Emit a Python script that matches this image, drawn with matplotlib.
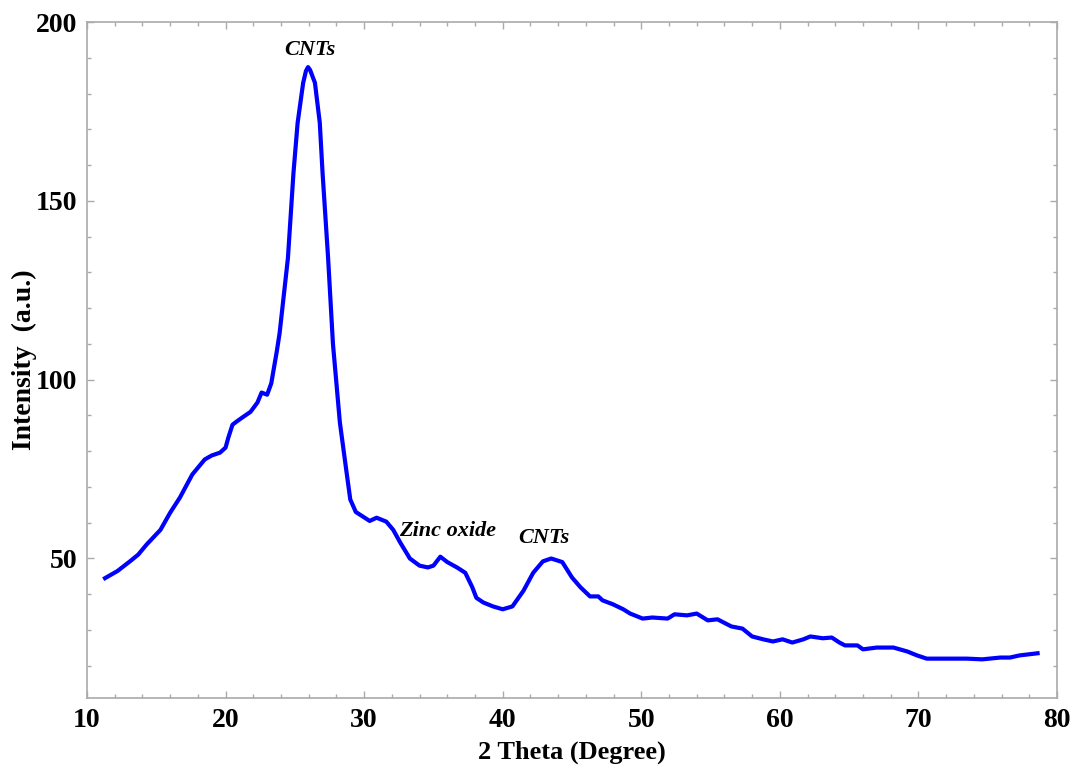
import matplotlib.pyplot as plt
from matplotlib.ticker import MultipleLocator

# XRD pattern
two_theta = [11.3, 12.2, 13.1, 13.7, 14.3, 15.3, 16.0, 16.7, 17.6, 18.5, 19.0, 19.6,
             20.0, 20.2, 20.5, 20.8, 21.2, 21.8, 22.3, 22.6, 23.0, 23.3, 23.7, 23.9,
             24.5, 24.9, 25.2, 25.6, 25.8, 25.95, 26.1, 26.45, 26.8, 27.0, 27.4, 27.75,
             28.0, 28.25, 28.7, 29.0, 29.4, 29.8, 30.4, 30.9, 31.6, 32.1, 32.6, 33.3,
             34.0, 34.6, 35.0, 35.5, 36.0, 36.7, 37.3, 37.8, 38.1, 38.6, 39.3, 40.0,
             40.7, 41.5, 42.2, 42.9, 43.5, 44.3, 45.0, 45.6, 46.3, 46.9, 47.2, 47.95,
             48.7, 49.2, 50.1, 50.8, 51.9, 52.4, 53.3, 54.0, 54.8, 55.5, 56.5, 57.3,
             58.0, 58.8, 59.5, 60.2, 60.9, 61.7, 62.2, 63.1, 63.75, 64.3, 64.7, 65.6,
             66.0, 67.0, 68.2, 69.2, 69.9, 70.6, 72.0, 73.5, 74.6, 75.9, 76.6, 77.3,
             78.6]
intensity = [44.5, 46.5, 49.2, 51.1, 53.9, 58.0, 62.8, 67.0, 73.5, 77.7, 78.8, 79.6,
             81.0, 83.8, 87.4, 88.3, 89.4, 91.0, 93.6, 96.4, 95.8, 99.0, 108.0, 113.0,
             134.0, 157.8, 171.8, 183.0, 186.3, 187.4, 186.6, 183.0, 171.8, 157.8, 134.0,
             110.0, 99.0, 88.0, 75.0, 66.5, 63.0, 62.0, 60.5, 61.4, 60.3, 58.0, 54.5,
             50.0, 48.0, 47.5, 48.0, 50.5, 49.0, 47.5, 46.0, 42.0, 39.0, 37.7, 36.6,
             35.8, 36.6, 41.0, 46.0, 49.2, 50.0, 49.0, 44.7, 42.0, 39.4, 39.4, 38.3,
             37.2, 35.8, 34.6, 33.2, 33.5, 33.2, 34.4, 34.1, 34.6, 32.7, 33.0, 31.0,
             30.4, 28.2, 27.4, 26.8, 27.4, 26.5, 27.4, 28.2, 27.7, 27.9, 26.5, 25.7,
             25.7, 24.6, 25.1, 25.1, 24.0, 22.9, 22.0, 22.0, 22.0, 21.8, 22.3, 22.3,
             22.9, 23.5]

labels = ['CNTs', 'Zinc oxide', 'CNTs']
label_x = [26.1, 36.0, 43.0]
label_y = [189.5, 55.0, 53.0]

plt.rcParams['font.family'] = ['Liberation Serif', 'DejaVu Serif']

fig = plt.figure(figsize=(10.78, 7.81), dpi=100)
ax = fig.add_axes([0.0807, 0.1063, 0.8998, 0.8655])

ax.plot(two_theta, intensity, color='#0000ff', linewidth=3, solid_joinstyle='round')

for txt, tx, ty in zip(labels, label_x, label_y):
    ax.text(tx, ty, txt, ha='center', va='bottom', fontsize=16,
            fontweight='bold', fontstyle='italic')

ax.set_xlim(10, 80)
ax.set_ylim(11, 200)
ax.xaxis.set_major_locator(MultipleLocator(10))
ax.xaxis.set_minor_locator(MultipleLocator(2))
ax.yaxis.set_major_locator(MultipleLocator(50))
ax.yaxis.set_minor_locator(MultipleLocator(10))

for s in ax.spines.values():
    s.set_color('#aaaaaa')
    s.set_linewidth(1.2)
ax.tick_params(which='both', direction='in', top=True, right=True,
               color='#aaaaaa', width=1)
ax.tick_params(which='major', length=5, labelsize=20, pad=7)
ax.tick_params(which='minor', length=3)
for lab in ax.get_xticklabels() + ax.get_yticklabels():
    lab.set_fontweight('bold')

ax.set_xlabel('2 Theta (Degree)', fontsize=19, fontweight='bold', labelpad=6)
ax.set_ylabel('Intensity  (a.u.)', fontsize=20, fontweight='bold', va='center')
ax.yaxis.set_label_coords(-0.064, 0.5)

fig.savefig('out.png', dpi=100)
